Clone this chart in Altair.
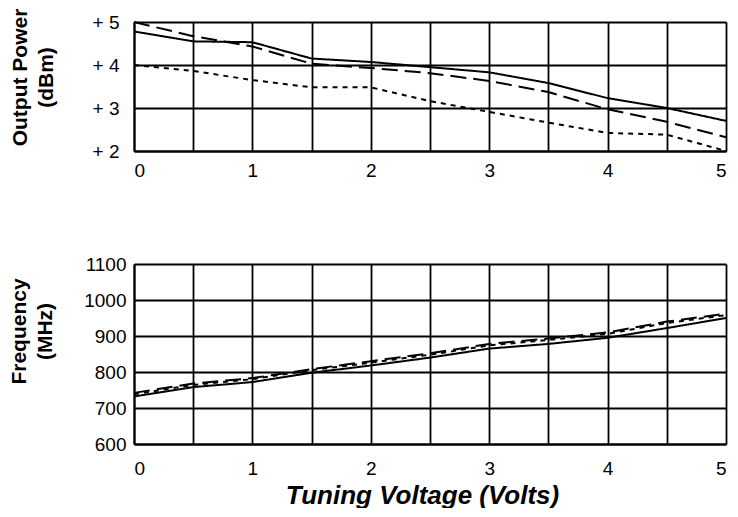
import altair as alt
import pandas as pd

# ---- data ----
voltage = [0, 0.5, 1, 1.5, 2, 2.5, 3, 3.5, 4, 4.5, 5]

power_solid = [4.78, 4.55, 4.53, 4.15, 4.07, 3.95, 3.83, 3.58, 3.23, 3.00, 2.70]
power_long = [5.00, 4.67, 4.43, 4.03, 3.93, 3.81, 3.63, 3.37, 2.97, 2.68, 2.32]
power_short = [4.00, 3.86, 3.65, 3.48, 3.48, 3.16, 2.91, 2.66, 2.42, 2.38, 2.00]

freq_solid = [732, 758, 772, 798, 818, 840, 865, 878, 895, 922, 950]
freq_long = [742, 768, 783, 808, 830, 852, 878, 893, 910, 940, 962]
freq_short = [738, 764, 780, 805, 826, 848, 874, 889, 906, 936, 958]

series_names = ["solid", "long dash", "short dash"]

x_grid = [0, 0.5, 1, 1.5, 2, 2.5, 3, 3.5, 4, 4.5, 5]
power_ticks = [2, 3, 4, 5]
freq_ticks = [600, 700, 800, 900, 1000, 1100]

# ---- styles ----
dash_styles = [[1, 0], [16, 7], [5, 5]]
FONT = "Liberation Sans"


def long_table(series_lists):
    rows = []
    for name, vals in zip(series_names, series_lists):
        for xv, yv in zip(voltage, vals):
            rows.append({"voltage": xv, "value": yv, "series": name})
    return pd.DataFrame(rows)


df_power = long_table([power_solid, power_long, power_short])
df_freq = long_table([freq_solid, freq_long, freq_short])

dash_enc = alt.StrokeDash(
    "series:N",
    scale=alt.Scale(domain=series_names, range=dash_styles),
    legend=None,
)

int_labels = "datum.value % 1 == 0 ? format(datum.value, 'd') : ''"

W = 592

top = alt.Chart(df_power).mark_line(color="black", strokeWidth=2, strokeCap="butt").encode(
    x=alt.X(
        "voltage:Q",
        scale=alt.Scale(domain=[0, 5], nice=False, zero=False),
        axis=alt.Axis(values=x_grid, labelExpr=int_labels, title=None,
                      labelPadding=10),
    ),
    y=alt.Y(
        "value:Q",
        scale=alt.Scale(domain=[2, 5], nice=False, zero=False),
        axis=alt.Axis(values=power_ticks, labelExpr="'+ ' + datum.value",
                      title=["Output Power", "(dBm)"], titlePadding=36,
                      titleY=55, labelPadding=15),
    ),
    strokeDash=dash_enc,
).properties(width=W, height=129)

bottom = alt.Chart(df_freq).mark_line(color="black", strokeWidth=2, strokeCap="butt").encode(
    x=alt.X(
        "voltage:Q",
        scale=alt.Scale(domain=[0, 5], nice=False, zero=False),
        axis=alt.Axis(values=x_grid, labelExpr=int_labels,
                      title="Tuning Voltage (Volts)", titleFontSize=26,
                      titleFontStyle="italic", titleFontWeight="bold",
                      titlePadding=4, titleX=288, labelPadding=15),
    ),
    y=alt.Y(
        "value:Q",
        scale=alt.Scale(domain=[600, 1100], nice=False, zero=False),
        axis=alt.Axis(values=freq_ticks, format="d", title=["Frequency", "(MHz)"],
                      titlePadding=28, titleY=67, labelPadding=8),
    ),
    strokeDash=dash_enc,
).properties(width=W, height=180)

chart = alt.vconcat(top, bottom, spacing=75).properties(
    padding={"left": 0, "top": 0, "right": 0, "bottom": 0},
    background="white",
).configure_view(stroke=None).configure_axis(
    labelFont=FONT,
    labelFontSize=19,
    labelColor="black",
    titleFont=FONT,
    titleFontSize=21,
    titleFontWeight="bold",
    titleColor="black",
    titleLineHeight=26,
    grid=True,
    gridColor="black",
    gridWidth=1.8,
    gridOpacity=1,
    domainColor="black",
    domainWidth=2,
    ticks=False,
)

chart.save("out.html", embed_options={"renderer": "svg", "actions": False})
